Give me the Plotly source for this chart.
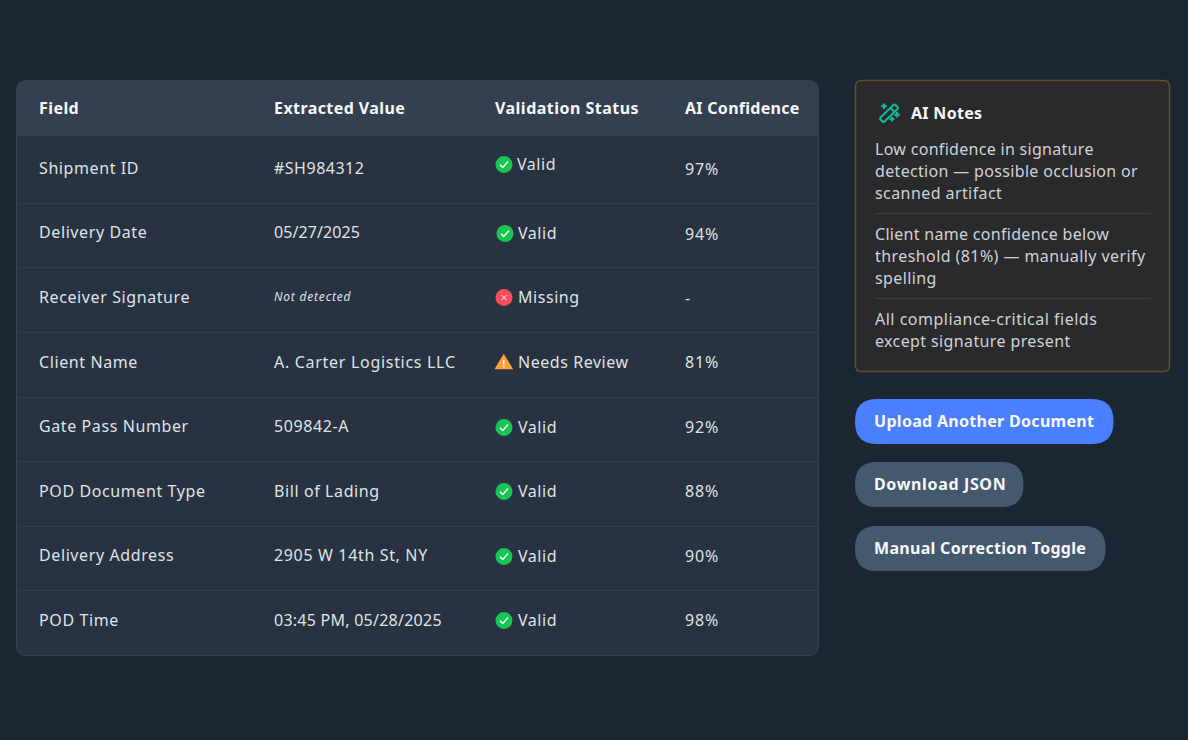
#!/usr/bin/env python3
import json
import plotly.graph_objects as go

fields = ["Shipment ID", "Delivery Date", "Receiver Signature", "Client Name",
          "Gate Pass Number", "POD Document Type", "Delivery Address", "POD Time"]
values = ["#SH984312", "05/27/2025", "Not detected", "A. Carter Logistics LLC",
          "509842-A", "Bill of Lading", "2905 W 14th St, NY", "03:45 PM, 05/28/2025"]
statuses = ["Valid", "Valid", "Missing", "Needs Review", "Valid", "Valid", "Valid", "Valid"]
confidence = ["97%", "94%", "-", "81%", "92%", "88%", "90%", "98%"]
headers = ["Field", "Extracted Value", "Validation Status", "AI Confidence"]
note_lines = ["Low confidence in signature", "detection — possible occlusion or", "scanned artifact",
              "Client name confidence below", "threshold (81%) — manually verify", "spelling",
              "All compliance-critical fields", "except signature present"]
buttons = ["Upload Another Document", "Download JSON", "Manual Correction Toggle"]

# layout, in page pixels
FONT = "Noto Sans"
TEXT_DY = 2.4
col_x = [39, 274, 495, 685]
field_y = [168, 232, 297, 362, 426, 491, 555, 620]
value_y = [168, 232, 296, 362, 426, 491, 555, 620]
status_y = [164, 233, 297, 362, 427, 491, 556, 620]
conf_y = [169, 234, 298, 362, 427, 491, 556, 620]
row_lines = [203.5, 267.5, 332.5, 397.5, 461.5, 526.5, 590.5]
note_y = [149, 171, 193, 234, 256, 278, 319, 341]
button_y = [420.5, 483.5, 547.5]
button_boxes = [(855, 1113.5, 399, 444), (855, 1023.5, 462, 507), (855, 1105.5, 526, 571)]
button_colors = ["#4a80ff", "#45596e", "#45596e"]

# letter spacing per text, the fallback font is narrower than the original
header_gaps = [0.42, 0.42, 0.48, 0.28]
value_gaps = [0.5, 0.1, 0.8, 0.7, 0.6, 0.6, 0.65, 0.25]
note_gaps = [0.3, 0.33, 0.42, 0.3, 0.42, 0.4, 0.5, 0.38]
button_gaps = [0.3, 0.65, 0.3]


def rrect(x0, x1, y0, y1, r, fill, line=None, top_only=False, width=1):
    b = r if not top_only else 0
    path = (f"M{x0+r},{y0} L{x1-r},{y0} Q{x1},{y0} {x1},{y0+r} L{x1},{y1-b} Q{x1},{y1} {x1-b},{y1} "
            f"L{x0+b},{y1} Q{x0},{y1} {x0},{y1-b} L{x0},{y0+r} Q{x0},{y0} {x0+r},{y0} Z")
    return dict(type="path", path=path, fillcolor=fill, line=dict(color=line or fill, width=width if line else 0), layer="below")


def stroke(path, color, width=1.6):
    return dict(type="path", path=path, line=dict(color=color, width=width))


spacing = []


def add_text(fig, x, y, text, size, color, gap, weight=400, style="normal"):
    # letter spacing is applied to each text in the page, see post_script below
    spacing.append(gap if isinstance(gap, list) else [gap] * len(text))
    fig.add_trace(go.Scatter(x=x, y=[v + TEXT_DY for v in y], text=text, mode="text",
                             textposition="middle right", hoverinfo="skip",
                             textfont=dict(family=FONT, size=size, color=color, weight=weight, style=style)))


shapes = [
    rrect(16.5, 818.5, 80.5, 655.5, 10, "#293241", "#364252"),
    rrect(17, 818, 81, 136, 9, "#344050", top_only=True),
    rrect(855.5, 1169.5, 80.5, 371.5, 6, "#2a2a2d", "#5c5026", width=1.5),
]
for y in row_lines:
    shapes.append(dict(type="line", x0=17, x1=818, y0=y, y1=y, line=dict(color="#343d4c", width=1)))
for y in (213.5, 298.5):
    shapes.append(dict(type="line", x0=875, x1=1151, y0=y, y1=y, line=dict(color="#3c3c3e", width=1)))
for box, color in zip(button_boxes, button_colors):
    shapes.append(rrect(box[0], box[1], box[2], box[3], 22, color))

# wand icon in the notes header
teal = "#10b595"
shapes += [
    stroke("M880.5,117.5 L893.5,105 Q894.5,104.2 895.5,105 L897.5,107 Q898.2,108 897.5,109 L884.5,121.5 "
           "Q883.5,122.2 882.5,121.5 L880.5,119.5 Q879.8,118.5 880.5,117.5 Z", teal, 2.2),
    stroke("M890.5,108 L894.8,112.2", teal, 2.2),
    stroke("M884,103.5 L884,109 M881.2,106.2 L886.8,106.2", teal, 2.2),
    stroke("M897,112 L897,117.5 M894.2,114.8 L899.8,114.8", teal, 2.2),
    stroke("M892,116.5 L892,121.5 M889.5,119 L894.5,119", teal, 2.2),
]

# status icons: circles come from a marker trace, the warning triangle from a path
icon_x = []
icon_y = []
icon_color = []
for i, s in enumerate(statuses):
    cx = 505 if i == 1 else 504
    cy = status_y[i] + 0.5
    if s == "Needs Review":
        shapes.append(dict(type="path", path="M503.8,355 L511.9,368.6 L495.7,368.6 Z", fillcolor="#ff9f38",
                           line=dict(color="#ff9f38", width=1.4)))
        shapes.append(stroke("M503.8,360 L503.8,364.4 M503.8,365.8 L503.8,367.2", "#ffffff", 1.5))
        continue
    icon_x.append(cx)
    icon_y.append(cy)
    icon_color.append("#16c653" if s == "Valid" else "#fb4d5c")
    if s == "Valid":
        shapes.append(stroke(f"M{cx-4},{cy+0.3} L{cx-1.2},{cy+3} L{cx+4},{cy-3}", "#ffffff", 1.5))
    else:
        shapes.append(stroke(f"M{cx-2.4},{cy-2.4} L{cx+2.4},{cy+2.4} M{cx+2.4},{cy-2.4} L{cx-2.4},{cy+2.4}", "#ffffff", 1))

status_x = [517 if i == 0 else 518 for i in range(len(statuses))]
light = "#dfe3e8"

fig = go.Figure()
fig.add_trace(go.Scatter(x=icon_x, y=icon_y, mode="markers", hoverinfo="skip",
                         marker=dict(size=17, color=icon_color, line=dict(width=0))))
spacing.append([])
add_text(fig, col_x, [108] * 4, headers, 16, "#f7f8fa", header_gaps, weight=700)
add_text(fig, [col_x[0]] * 8, field_y, fields, 16, light, 0.6)
plain = [i for i, v in enumerate(values) if v != "Not detected"]
add_text(fig, [col_x[1]] * len(plain), [value_y[i] for i in plain], [values[i] for i in plain], 16, light,
         [value_gaps[i] for i in plain])
add_text(fig, [col_x[1]], [value_y[2]], [values[2]], 12, light, value_gaps[2], style="italic")
add_text(fig, status_x, status_y, statuses, 16, light, 0.55)
add_text(fig, [col_x[3]] * 8, conf_y, confidence, 16, light, 0.9)
add_text(fig, [911], [113], ["AI Notes"], 16, "#f7f8fa", 0.3, weight=700)
add_text(fig, [875] * 8, note_y, note_lines, 16, "#cfd2d6", note_gaps)
add_text(fig, [874] * 3, button_y, buttons, 16, "#f7f9fc", button_gaps, weight=700)

fig.update_layout(
    width=1188, height=740, margin=dict(l=0, r=0, t=0, b=0),
    paper_bgcolor="#1c2633", plot_bgcolor="#1c2633", showlegend=False,
    shapes=shapes,
    xaxis=dict(range=[0, 1188], visible=False, fixedrange=True),
    yaxis=dict(range=[740, 0], visible=False, fixedrange=True),
)
post = ("document.body.style.margin='0';document.body.style.background='#1c2633';"
        f"var gaps={json.dumps(spacing)};"
        "document.querySelectorAll('.scatterlayer .trace').forEach(function(tr,i){"
        "tr.querySelectorAll('text').forEach(function(t,j){t.style.letterSpacing=gaps[i][j]+'px';});});")
fig.write_html("out.html", config=dict(displayModeBar=False), post_script=post)
